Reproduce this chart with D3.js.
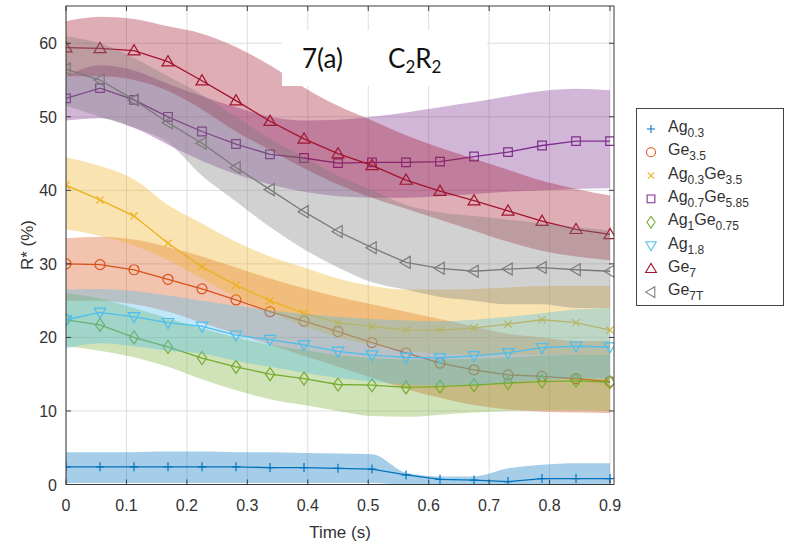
<!DOCTYPE html>
<html><head><meta charset="utf-8">
<script src="https://cdn.jsdelivr.net/npm/d3@7"></script>
<style>html,body{margin:0;padding:0;background:#fff;} svg{display:block;}</style>
</head><body><svg id="chart" width="786" height="546"></svg>
<script>
// ---------- data ----------
const time = [0, 0.05625, 0.1125, 0.16875, 0.225, 0.28125, 0.3375, 0.39375, 0.45, 0.50625, 0.5625, 0.61875, 0.675, 0.73125, 0.7875, 0.84375, 0.9];
const xTicks = [0, 0.1, 0.2, 0.3, 0.4, 0.5, 0.6, 0.7, 0.8, 0.9];
const yTicks = [0, 10, 20, 30, 40, 50, 60];
const labels = ["Ag_{0.3}", "Ge_{3.5}", "Ag_{0.3}Ge_{3.5}", "Ag_{0.7}Ge_{5.85}", "Ag_{1}Ge_{0.75}", "Ag_{1.8}", "Ge_{7}", "Ge_{7T}"];
const colors = ["#0072BD", "#D95319", "#EDB120", "#7E2F8E", "#77AC30", "#4DBEEE", "#A2142F", "#7a7a7a"];
const markers = ["plus", "circle", "x", "square", "diamond", "triDown", "triUp", "triLeft"];

const ag03     = [2.4, 2.4, 2.4, 2.4, 2.4, 2.4, 2.3, 2.3, 2.2, 2.1, 1.3, 0.7, 0.6, 0.4, 0.8, 0.8, 0.8];
const ag03Hi   = [4.4, 4.4, 4.4, 4.5, 4.5, 4.4, 4.4, 4.3, 4.2, 4.1, 1.6, 1.1, 1.1, 2.2, 2.7, 2.9, 2.9];
const ag03Lo   = [0.2, 0.2, 0.2, 0.2, 0.2, 0.2, 0.2, 0.2, 0.2, 0.2, 0, 0, 0, 0, 0, 0, 0];

const ge35     = [30.0, 29.9, 29.2, 27.9, 26.6, 25.1, 23.5, 22.2, 20.8, 19.3, 17.9, 16.5, 15.6, 14.9, 14.7, 14.4, 14.0];
const ge35Hi   = [33.5, 33.7, 33.3, 32.3, 31.0, 29.5, 28.0, 26.7, 25.5, 24.5, 23.5, 22.5, 21.5, 20.5, 20.0, 19.5, 19.5];
const ge35Lo   = [25.0, 25.0, 24.5, 23.5, 22.0, 20.5, 19.0, 17.5, 16.0, 14.5, 13.0, 11.8, 10.8, 10.2, 9.9, 9.8, 9.7];

const ag03ge35   = [40.7, 38.7, 36.5, 32.8, 29.6, 27.1, 25.0, 23.3, 22.0, 21.5, 21.0, 21.0, 21.3, 21.8, 22.4, 22.0, 21.0];
const ag03ge35Hi = [44.5, 43.3, 41.5, 38.0, 35.5, 33.0, 31.0, 29.5, 28.0, 27.0, 26.5, 26.5, 26.6, 26.8, 27.0, 27.0, 27.0];
const ag03ge35Lo = [34.7, 33.8, 32.5, 30.5, 28.0, 25.5, 23.5, 21.5, 20.0, 19.0, 18.2, 17.8, 17.6, 17.6, 17.6, 17.6, 17.5];

const ag07ge585   = [52.5, 53.9, 52.3, 50.0, 48.0, 46.3, 44.9, 44.4, 43.7, 43.8, 43.8, 43.9, 44.6, 45.2, 46.1, 46.7, 46.7];
const ag07ge585Hi = [55.5, 57.0, 56.3, 54.5, 52.8, 51.3, 50.0, 49.5, 49.6, 50.0, 50.6, 51.3, 52.0, 52.8, 53.5, 53.8, 53.6];
const ag07ge585Lo = [49.5, 49.8, 48.5, 46.2, 44.0, 42.2, 40.8, 39.8, 39.2, 39.0, 39.0, 39.2, 39.5, 39.8, 40.0, 40.2, 40.3];

const ag1ge075   = [22.4, 21.7, 20.0, 18.7, 17.2, 16.0, 15.0, 14.4, 13.6, 13.5, 13.2, 13.3, 13.5, 13.8, 14.0, 14.1, 13.9];
const ag1ge075Hi = [26.0, 25.3, 24.0, 22.6, 21.2, 20.0, 19.0, 18.3, 17.6, 17.2, 17.0, 17.0, 17.1, 17.3, 17.5, 17.6, 17.6];
const ag1ge075Lo = [18.8, 18.2, 17.3, 16.0, 14.3, 12.8, 11.6, 10.8, 10.0, 9.3, 9.2, 9.5, 9.8, 10.0, 10.1, 10.1, 10.0];

const ag18   = [22.4, 23.4, 22.8, 22.0, 21.5, 20.3, 19.7, 19.0, 18.1, 17.6, 17.3, 17.2, 17.5, 17.9, 18.6, 18.8, 18.7];
const ag18Hi = [26.5, 26.6, 26.3, 25.7, 25.0, 24.3, 23.7, 23.2, 22.8, 22.5, 22.3, 22.2, 22.4, 22.8, 23.3, 23.8, 24.0];
const ag18Lo = [18.5, 19.2, 18.8, 18.2, 17.8, 16.8, 16.0, 15.2, 14.5, 14.0, 13.6, 13.5, 13.6, 13.9, 14.2, 14.4, 14.4];

const ge7   = [59.4, 59.3, 59.0, 57.5, 54.9, 52.2, 49.4, 47.0, 45.0, 43.4, 41.4, 39.9, 38.6, 37.2, 35.8, 34.7, 34.0];
const ge7Hi = [63.0, 63.6, 63.3, 62.3, 61.3, 59.5, 57.0, 54.0, 51.5, 49.5, 47.5, 45.8, 44.3, 42.8, 41.3, 40.2, 39.3];
const ge7Lo = [55.5, 55.5, 55.0, 53.5, 51.0, 48.0, 45.5, 43.0, 40.8, 39.0, 37.5, 36.0, 34.5, 33.0, 31.8, 31.0, 30.5];

const ge7t   = [56.5, 55.0, 52.3, 49.2, 46.4, 43.1, 40.1, 37.1, 34.4, 32.2, 30.2, 29.4, 29.0, 29.3, 29.5, 29.2, 29.0];
const ge7tHi = [61.0, 60.0, 58.0, 55.5, 53.0, 50.0, 47.0, 44.5, 42.0, 40.0, 38.0, 37.0, 36.5, 36.0, 35.5, 35.0, 34.5];
const ge7tLo = [51.5, 50.0, 48.5, 46.5, 42.0, 38.5, 35.0, 32.0, 29.5, 27.5, 26.5, 25.5, 25.0, 24.5, 24.5, 24.0, 24.0];

const means = [ag03, ge35, ag03ge35, ag07ge585, ag1ge075, ag18, ge7, ge7t];
const highs = [ag03Hi, ge35Hi, ag03ge35Hi, ag07ge585Hi, ag1ge075Hi, ag18Hi, ge7Hi, ge7tHi];
const lows  = [ag03Lo, ge35Lo, ag03ge35Lo, ag07ge585Lo, ag1ge075Lo, ag18Lo, ge7Lo, ge7tLo];

// ---------- layout ----------
const svg = d3.select("#chart");
const L = 66, R = 614, T = 6, B = 484.5;
const x = d3.scaleLinear().domain([0, 0.9066]).range([L, R]);
const y = d3.scaleLinear().domain([0, 65]).range([B, T + 0.5]);
const font = "'Liberation Sans', Arial, sans-serif";
const textCol = "#333";

svg.append("defs").append("clipPath").attr("id", "clip")
  .append("rect").attr("x", L).attr("y", T).attr("width", R - L).attr("height", B - T);

// grid
const grid = svg.append("g");
grid.selectAll(".gx").data(xTicks).join("line")
  .attr("x1", d => x(d)).attr("x2", d => x(d)).attr("y1", T).attr("y2", B)
  .attr("stroke", "#dedede").attr("stroke-width", 1);
grid.selectAll(".gy").data(yTicks).join("line")
  .attr("x1", L).attr("x2", R).attr("y1", d => y(d)).attr("y2", d => y(d))
  .attr("stroke", "#dedede").attr("stroke-width", 1);

// marker shapes
const markerPath = {
  plus: "M-4.5,0H4.5M0,-4.5V4.5",
  circle: "M5,0A5,5 0 1,1 -5,0A5,5 0 1,1 5,0Z",
  x: "M-3.6,-3.6L3.6,3.6M-3.6,3.6L3.6,-3.6",
  square: "M-4.3,-4.3H4.3V4.3H-4.3Z",
  diamond: "M0,-6.5L4.6,0L0,6.5L-4.6,0Z",
  triDown: "M-5.8,-4.2L5.8,-4.2L0,5.8Z",
  triUp: "M-6,4.2L6,4.2L0,-6Z",
  triLeft: "M-6,0L4.2,-6L4.2,6Z"
};

const plot = svg.append("g").attr("clip-path", "url(#clip)");
const area = d3.area().x((d, i) => x(time[i])).y0(d => y(d[0])).y1(d => y(d[1])).curve(d3.curveMonotoneX);
const line = d3.line().x((d, i) => x(time[i])).y(d => y(d)).curve(d3.curveLinear);

means.forEach((m, s) => {
  const band = lows[s].map((lo, i) => [lo, highs[s][i]]);
  plot.append("path").attr("d", area(band)).attr("fill", colors[s]).attr("fill-opacity", 0.35).attr("stroke", "none");
  plot.append("path").attr("d", line(m)).attr("fill", "none").attr("stroke", colors[s]).attr("stroke-width", 1.3);
  plot.append("g").selectAll("path").data(m).join("path")
    .attr("d", markerPath[markers[s]])
    .attr("transform", (d, i) => `translate(${x(time[i])},${y(d)})`)
    .attr("fill", "none").attr("stroke", colors[s]).attr("stroke-width", 1.2);
});

// axes box
const axCol = "#3a3a3a";
svg.append("rect").attr("x", L).attr("y", T).attr("width", R - L).attr("height", B - T)
  .attr("fill", "none").attr("stroke", axCol).attr("stroke-width", 1);
const tickLen = 5;
const tk = svg.append("g").attr("stroke", axCol).attr("stroke-width", 1);
xTicks.forEach(t => {
  tk.append("line").attr("x1", x(t)).attr("x2", x(t)).attr("y1", B).attr("y2", B - tickLen);
  tk.append("line").attr("x1", x(t)).attr("x2", x(t)).attr("y1", T).attr("y2", T + tickLen);
});
yTicks.forEach(t => {
  tk.append("line").attr("x1", L).attr("x2", L + tickLen).attr("y1", y(t)).attr("y2", y(t));
  tk.append("line").attr("x1", R).attr("x2", R - tickLen).attr("y1", y(t)).attr("y2", y(t));
});
svg.append("g").selectAll("text").data(xTicks).join("text")
  .attr("x", d => x(d)).attr("y", 511).attr("text-anchor", "middle")
  .attr("font-family", font).attr("font-size", 16).attr("fill", textCol)
  .text(d => d3.format("")(d));
svg.append("g").selectAll("text").data(yTicks).join("text")
  .attr("x", 57).attr("y", d => y(d) + 6).attr("text-anchor", "end")
  .attr("font-family", font).attr("font-size", 16).attr("fill", textCol)
  .text(d => d);

svg.append("text").attr("x", 340).attr("y", 538).attr("text-anchor", "middle")
  .attr("font-family", font).attr("font-size", 17).attr("fill", textCol).text("Time (s)");
svg.append("text").attr("transform", "translate(33,245) rotate(-90)").attr("text-anchor", "middle")
  .attr("font-family", font).attr("font-size", 17).attr("fill", textCol).text("R* (%)");

// title box
svg.append("rect").attr("x", 282).attr("y", 30).attr("width", 205).attr("height", 56).attr("fill", "#fff");
const tf = "Lato, 'Open Sans', sans-serif";
svg.append("text").attr("x", 302).attr("y", 68).attr("font-family", tf).attr("font-size", 26).attr("fill", "#111").text("7(a)");
const ct = svg.append("text").attr("x", 388).attr("y", 68).attr("font-family", tf).attr("font-size", 26).attr("fill", "#111");
ct.append("tspan").text("C");
ct.append("tspan").attr("font-size", 17).attr("dy", 5).text("2");
ct.append("tspan").attr("dy", -5).text("R");
ct.append("tspan").attr("font-size", 17).attr("dy", 5).text("2");

// legend
const lg = svg.append("g");
lg.append("rect").attr("x", 636.5).attr("y", 108.5).attr("width", 147).attr("height", 197)
  .attr("fill", "#fff").attr("stroke", "#444").attr("stroke-width", 1);
labels.forEach((lab, k) => {
  const cy = 129 + k * 23.3;
  lg.append("path").attr("d", markerPath[markers[k]]).attr("transform", `translate(651,${cy}) scale(0.9)`)
    .attr("fill", "none").attr("stroke", colors[k]).attr("stroke-width", 1.2);
  const t = lg.append("text").attr("x", 668).attr("y", cy + 3).attr("font-family", font)
    .attr("font-size", 16).attr("fill", textCol);
  const parts = lab.split(/(_\{[^}]*\})/).filter(p => p.length);
  let sub = false;
  parts.forEach(p => {
    if (p.startsWith("_{")) {
      t.append("tspan").attr("font-size", 12).attr("dy", 5).text(p.slice(2, -1));
      sub = true;
    } else {
      t.append("tspan").attr("dy", sub ? -5 : 0).text(p);
      sub = false;
    }
  });
});
</script>
</body></html>
